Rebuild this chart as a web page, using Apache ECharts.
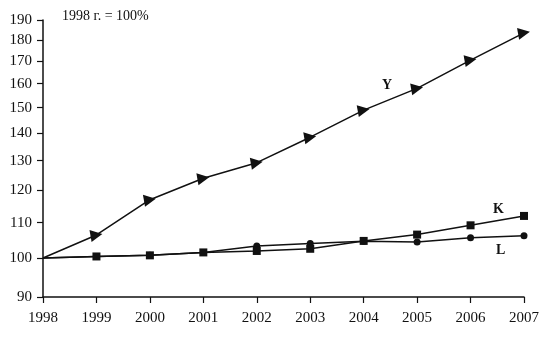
<!DOCTYPE html>
<html>
<head>
<meta charset="utf-8">
<script src="https://cdn.jsdelivr.net/npm/echarts@6/dist/echarts.min.js"></script>
<style>
  html, body { margin: 0; padding: 0; background: #fff; }
  #chart { width: 548px; height: 339px; }
</style>
</head>
<body>
<div id="chart"></div>
<script>
// Index values, 1998 = 100%
const years = ['1998', '1999', '2000', '2001', '2002', '2003', '2004', '2005', '2006', '2007'];
const seriesY = [100, 106.4, 117, 124, 129.3, 138.5, 149, 158, 170.5, 183.5];
const seriesK = [100, 100.4, 100.7, 101.5, 101.9, 102.5, 104.7, 106.5, 109.2, 112];
const seriesL = [100, 100.4, 100.7, 101.5, 103.3, 104, 104.6, 104.4, 105.6, 106.2];
const yTicks = [90, 100, 110, 120, 130, 140, 150, 160, 170, 180, 190];

const FONT = '"Liberation Serif", "DejaVu Serif", serif';
const INK = '#111';

const chart = echarts.init(document.getElementById('chart'), null, { renderer: 'canvas' });

function lineSeries(name, values, symbol, size, rotate) {
  // the base year is the common origin and carries no marker
  const data = values.map((v, i) => (i === 0 ? { value: v, symbol: 'none' } : v));
  return {
    name: name,
    type: 'line',
    data: data,
    symbol: symbol,
    symbolSize: size,
    symbolRotate: rotate || 0,
    showAllSymbol: true,
    lineStyle: { color: INK, width: 1.5 },
    itemStyle: { color: INK },
    emphasis: { disabled: true },
    animation: false
  };
}

chart.setOption({
  animation: false,
  grid: { left: 43, right: 24, top: 20, bottom: 42 },
  xAxis: {
    type: 'category',
    data: years,
    boundaryGap: false,
    axisLine: { lineStyle: { color: INK, width: 1.5 } },
    axisTick: { show: true, length: 6, lineStyle: { color: INK, width: 1.2 } },
    axisLabel: { color: INK, fontFamily: FONT, fontSize: 15, margin: 14 },
    splitLine: { show: false }
  },
  yAxis: {
    type: 'log',
    logBase: 10,
    min: 90,
    max: 190,
    axisLine: { show: true, lineStyle: { color: INK, width: 1.5 } },
    axisTick: { show: true, length: 6, customValues: yTicks, lineStyle: { color: INK, width: 1.2 } },
    axisLabel: { color: INK, fontFamily: FONT, fontSize: 15, margin: 11, customValues: yTicks,
      formatter: v => String(Math.round(v)) },
    splitLine: { show: false }
  },
  series: [
    lineSeries('L', seriesL, 'circle', 7),
    lineSeries('K', seriesK, 'rect', 8),
    lineSeries('Y', seriesY, 'triangle', 12, -80)
  ],
  graphic: [
    { type: 'text', left: 62, top: 9, style: { text: '1998 г. = 100%', font: '14px ' + FONT, fill: INK } },
    { type: 'text', left: 382, top: 78, style: { text: 'Y', font: 'bold 14px ' + FONT, fill: INK } },
    { type: 'text', left: 493, top: 202, style: { text: 'K', font: 'bold 14px ' + FONT, fill: INK } },
    { type: 'text', left: 496, top: 243, style: { text: 'L', font: 'bold 14px ' + FONT, fill: INK } }
  ]
});
</script>
</body>
</html>
